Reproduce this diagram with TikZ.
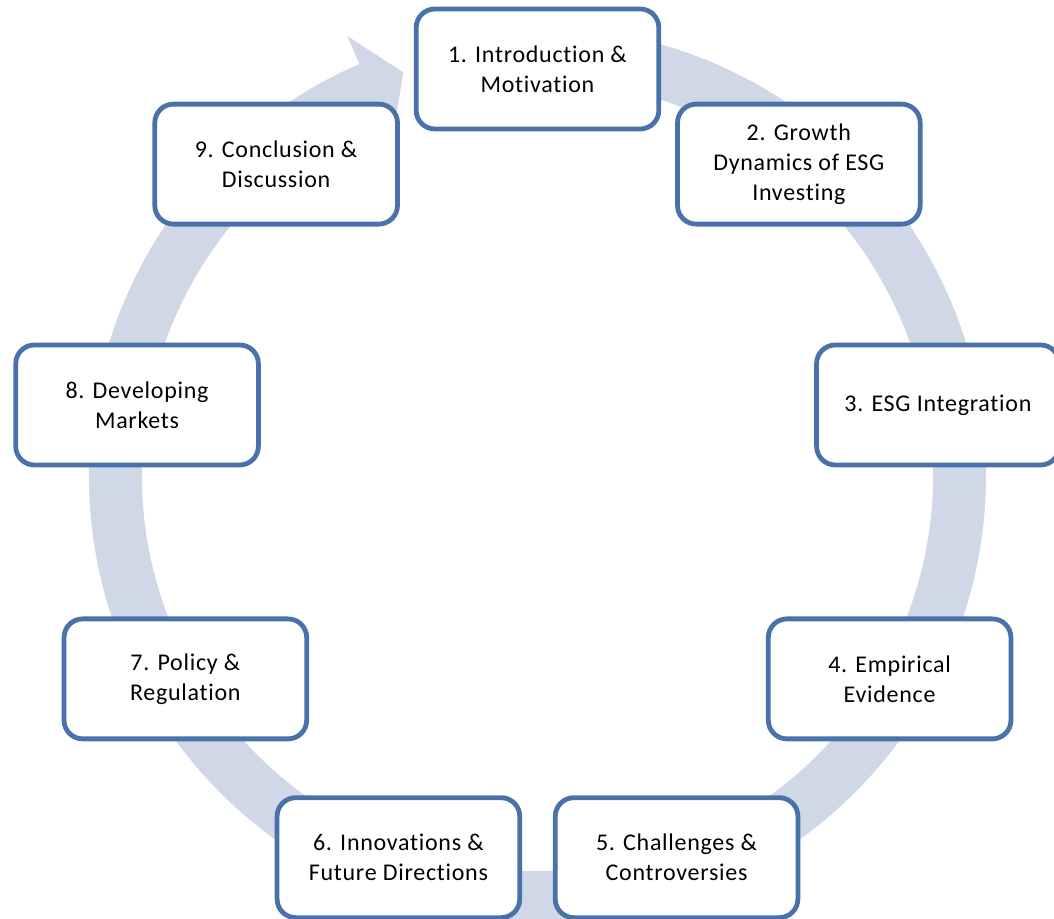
\documentclass[tikz,border=0pt]{standalone}
\usepackage{fontspec}
\setmainfont{Carlito}[LetterSpace=3, Ligatures={NoCommon}]
\definecolor{boxblue}{HTML}{4A72AA}
\definecolor{bandblue}{HTML}{D0D8E8}
\tikzset{
  stage/.style={draw=boxblue, line width=3.6pt, fill=white, rounded corners=14pt,
    minimum width=182pt, minimum height=90pt, align=center, inner sep=2pt}
}
\begin{document}
\begin{tikzpicture}[x=0.75pt, y=0.75pt, every node/.style={font=\fontsize{18}{22.5}\selectfont}]
  \useasboundingbox (-537.5,-443.4) rectangle (516.5,475.6);

  % Cycle band, clockwise, head pointing back at stage 1
  \fill[bandblue] (80:448.5) arc[start angle=80, end angle=-246.6, radius=448.5]
    -- (113.4:479) -- (108.4:425) -- (113.4:366) -- (113.4:395.5)
    arc[start angle=-246.6, end angle=80, radius=395.5] -- cycle;

  % Stages, every 40 degrees from the top
  \node[stage] (intro)  at (90:406.6)   {1. Introduction \&\\Motivation};
  \node[stage] (growth) at (50:406.6)   {2. Growth\\Dynamics of ESG\\Investing};
  \node[stage] (integ)  at (10:406.6)   {3. ESG Integration};
  \node[stage] (empir)  at (-30:406.6)  {4. Empirical\\Evidence};
  \node[stage] (chall)  at (-70:406.6)  {5. Challenges \&\\Controversies};
  \node[stage] (innov)  at (-110:406.6) {6. Innovations \&\\Future Directions};
  \node[stage] (policy) at (-150:406.6) {7. Policy \&\\Regulation};
  \node[stage] (devel)  at (170:406.6)  {8. Developing\\Markets};
  \node[stage] (concl)  at (130:406.6)  {9. Conclusion \&\\Discussion};

\end{tikzpicture}
\end{document}
